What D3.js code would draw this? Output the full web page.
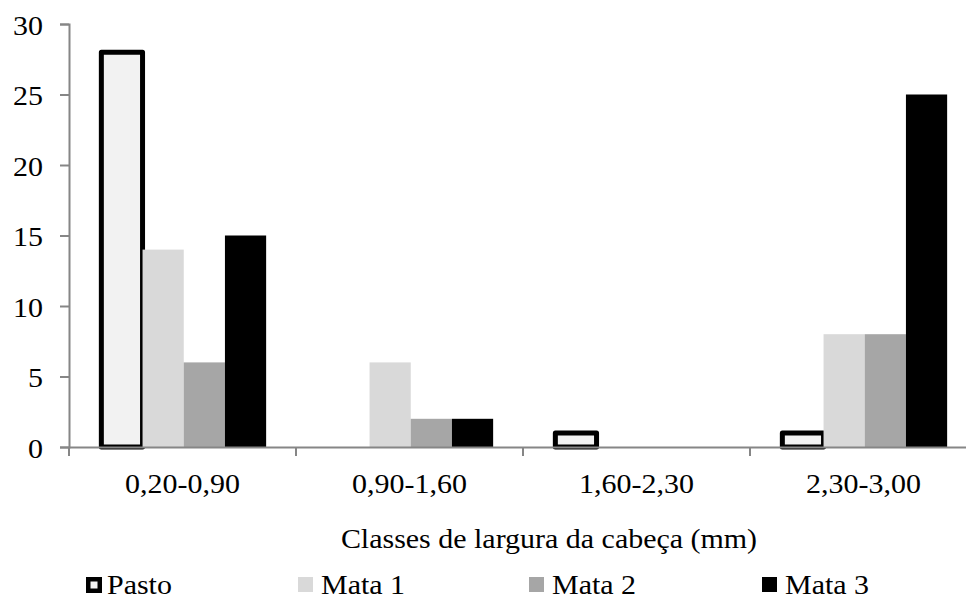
<!DOCTYPE html>
<html><head><meta charset="utf-8">
<script src="https://cdn.jsdelivr.net/npm/d3@7"></script>
<style>body{margin:0;background:#fff}svg{display:block}</style>
</head><body><svg id="c" width="966" height="596"></svg>
<script>
const categories = ["0,20-0,90","0,90-1,60","1,60-2,30","2,30-3,00"];
const seriesNames = ["Pasto","Mata 1","Mata 2","Mata 3"];
const pasto = [28,0,1,1];
const mata1 = [14,6,0,8];
const mata2 = [6,2,0,8];
const mata3 = [15,2,0,25];
const yTicks = [0,5,10,15,20,25,30];
const xTitle = "Classes de largura da cabeça (mm)";

const values = [pasto, mata1, mata2, mata3];
const fills = ["#f2f2f2","#d9d9d9","#a6a6a6","#000000"];
const svg = d3.select("#c");
const axisColor = "#868686";
const plotLeft = 69, plotBottom = 447, plotTop = 24;
const fs = 28;
const FONT = "Liberation Serif, Tinos, serif";
const stretch = 1.07;

function styleText(sel) {
  sel.style("font-family", FONT).attr("font-family", FONT).attr("font-size", fs).attr("fill", "#000");
  sel.each(function() {
    const w = this.getComputedTextLength();
    d3.select(this).attr("textLength", w * stretch).attr("lengthAdjust", "spacingAndGlyphs");
  });
}

const x0 = d3.scaleBand().domain(categories).range([plotLeft, plotLeft + 227*4]).padding(0);
const x1 = d3.scaleBand().domain(seriesNames).range([0, x0.bandwidth()])
  .paddingInner(0).paddingOuter(0.755).align(0.52);
const y = d3.scaleLinear().domain([0,30]).range([plotBottom, plotTop]);

// bars
seriesNames.forEach((s, si) => {
  const g = svg.append("g");
  categories.forEach((c, ci) => {
    const v = values[si][ci];
    if (!(v > 0)) return;
    const r = g.append("rect").attr("x", x0(c)+x1(s)).attr("y", y(v))
      .attr("width", x1.bandwidth()).attr("height", y(0)-y(v))
      .attr("fill", fills[si]);
    if (si === 0) r.attr("stroke","#000").attr("stroke-width",5).attr("stroke-linejoin","round");
  });
});

// y axis
const ya = svg.append("g").attr("transform",`translate(${plotLeft},0)`)
  .call(d3.axisLeft(y).tickValues(yTicks).tickSize(9).tickPadding(17));
ya.attr("font-family", FONT);
ya.select(".domain").attr("stroke",axisColor).attr("stroke-width",2);
ya.selectAll(".tick line").attr("stroke",axisColor).attr("stroke-width",2);
ya.selectAll(".tick text").attr("dy","0.36em").call(styleText);

// x axis
const xa = svg.append("g").attr("transform",`translate(0,${plotBottom})`)
  .call(d3.axisBottom(x0).tickSize(0).tickPadding(26));
xa.attr("font-family", FONT);
xa.select(".domain").attr("stroke",axisColor).attr("stroke-width",2);
xa.selectAll(".tick text").call(styleText);
// category boundary ticks
const bounds = categories.map(c => x0(c)).concat([x0(categories[3]) + x0.bandwidth()]);
svg.append("g").selectAll("line").data(bounds.filter(b => b < 966)).join("line")
  .attr("x1", d=>d).attr("x2", d=>d).attr("y1", plotBottom).attr("y2", plotBottom+9)
  .attr("stroke", axisColor).attr("stroke-width",2);

// x title
svg.append("text").attr("x", 549).attr("y", 548).attr("text-anchor","middle")
  .text(xTitle).call(styleText);

// legend
const legX = [86, 298, 529, 762];
const legTextX = [107, 321, 552, 785];
seriesNames.forEach((s, i) => {
  const g = svg.append("g");
  if (i === 0) {
    g.append("rect").attr("x", legX[i]+2.25).attr("y", 579.25).attr("width", 11.5).attr("height", 11.5)
      .attr("fill", fills[i]).attr("stroke","#000").attr("stroke-width",4.5);
  } else {
    g.append("rect").attr("x", legX[i]).attr("y", 577).attr("width", 15).attr("height", 15).attr("fill", fills[i]);
  }
  g.append("text").attr("x", legTextX[i]).attr("y", 594).text(s).call(styleText);
});
</script></body></html>
